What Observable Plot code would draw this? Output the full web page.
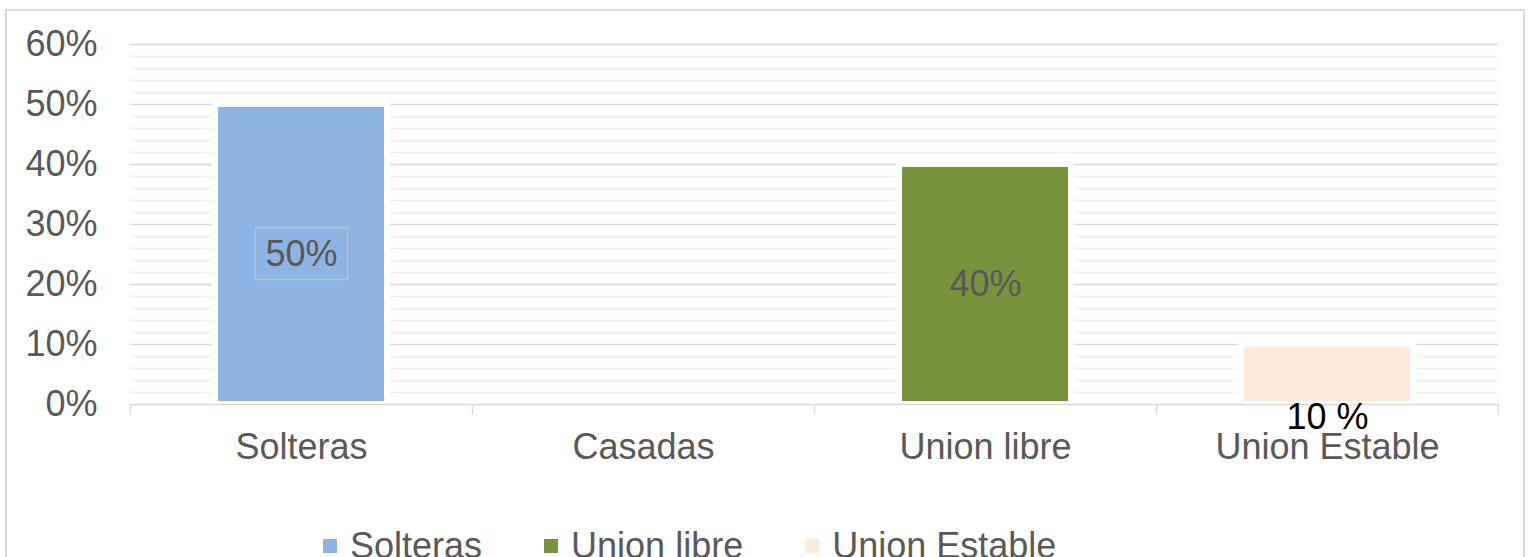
<!DOCTYPE html>
<html>
<head>
<meta charset="utf-8">
<script src="https://cdn.jsdelivr.net/npm/d3@7"></script>
<script src="https://cdn.jsdelivr.net/npm/@observablehq/plot@0.6"></script>
<style>
  html, body { margin: 0; padding: 0; overflow: hidden; background: #fff; }
  #wrap { position: relative; width: 1530px; height: 557px; overflow: hidden; font-family: "Liberation Sans", Arial, sans-serif; }
  #frame { position: absolute; left: 5px; top: 9px; width: 1520px; height: 620px; border: 2px solid #d9d9d9; box-sizing: border-box; }
  #chart { position: absolute; left: 0; top: 0; }
  #legend { position: absolute; top: 528px; left: 323px; display: flex; align-items: center; gap: 62px; font-size: 36px; line-height: 36px; color: #595959; white-space: nowrap; }
  #legend .item { display: flex; align-items: center; gap: 13px; }
  #legend .sw { width: 14px; height: 14px; display: inline-block; }
</style>
</head>
<body>
<div id="wrap">
  <div id="frame"></div>
  <div id="chart"></div>
  <div id="legend"></div>
</div>
<script>
// ---- data ----
const categories = ["Solteras", "Casadas", "Union libre", "Union Estable"];
const values = [0.50, null, 0.40, 0.10];
const labels = ["50%", null, "40%", "10 %"];
const colors = ["#8eb4e3", "#c0504d", "#77933c", "#fdeada"];
const yTicks = [0, 0.1, 0.2, 0.3, 0.4, 0.5, 0.6];
const minorTicks = [0.02, 0.04, 0.06, 0.08, 0.12, 0.14, 0.16, 0.18, 0.22, 0.24, 0.26, 0.28,
                    0.32, 0.34, 0.36, 0.38, 0.42, 0.44, 0.46, 0.48, 0.52, 0.54, 0.56, 0.58];
const boundaries = [0, 1, 2, 3, 4];

const table = categories.map((c, i) => ({i, category: c, value: values[i], label: labels[i], color: colors[i]}));
const bars = table.filter(d => d.value != null);
const insideLabels = table.filter(d => d.label != null && d.i !== 3);
const belowLabels = table.filter(d => d.label != null && d.i === 3);
const boxedLabel = "50%";

const font = "'Liberation Sans', Arial, sans-serif";

const chart = Plot.plot({
  width: 1530,
  height: 480,
  marginLeft: 130,
  marginRight: 32,
  marginTop: 44,
  marginBottom: 76,
  style: {fontFamily: font, color: "#595959", background: "transparent", overflow: "visible"},
  x: {domain: [0, 4], axis: null, label: null},
  y: {domain: [0, 0.6], axis: null, label: null},
  color: {type: "identity"},
  marks: [
    Plot.ruleY(minorTicks, {stroke: "#f0f0f0", strokeWidth: 1.3}),
    Plot.ruleY(yTicks.filter(t => t > 0), {stroke: "#d9d9d9", strokeWidth: 1.3}),
    Plot.rectY(bars, {x1: "i", x2: d => d.i + 1, y: "value", fill: "color", stroke: "white", strokeWidth: 6, insetLeft: 85, insetRight: 85}),
    Plot.ruleY([0], {stroke: "#d9d9d9", strokeWidth: 1.5}),
    Plot.axisX({ticks: boundaries, tickSize: 10, tickFormat: () => "", label: null, stroke: "#d9d9d9", strokeWidth: 1.5}),
    Plot.axisX({ticks: categories.map((c, i) => i + 0.5), tickSize: 0, tickPadding: 29, label: null,
      tickFormat: v => categories[Math.floor(v)], fontSize: 36, fill: "#595959"}),
    Plot.axisY({ticks: yTicks, tickSize: 0, tickPadding: 33, label: null, tickFormat: d3.format(".0%"), fontSize: 36, fill: "#595959"}),
    Plot.text(insideLabels, {x: d => d.i + 0.5, y: d => d.value / 2, text: "label", fontSize: 36, fill: "#595959"}),
    Plot.text(belowLabels, {x: d => d.i + 0.5, y: 0, text: "label", fontSize: 36, fill: "#000000", lineAnchor: "bottom", dy: 24})
  ]
});
document.getElementById("chart").appendChild(chart);

// box around the boxed data label
d3.select(chart).selectAll('g[aria-label="text"] text').each(function() {
  if (this.textContent === boxedLabel) {
    const b = this.getBBox();
    const cy = b.y + b.height / 2;
    const g = this.parentNode;
    const r = document.createElementNS("http://www.w3.org/2000/svg", "rect");
    r.setAttribute("x", b.x - 10);
    r.setAttribute("y", cy - 26);
    r.setAttribute("width", b.width + 20);
    r.setAttribute("height", 52);
    r.setAttribute("fill", "none");
    r.setAttribute("stroke", "#bfbfbf");
    r.setAttribute("stroke-width", 1.5);
    const t = this.getAttribute("transform");
    if (t) r.setAttribute("transform", t);
    g.insertBefore(r, this);
  }
});

// legend
const legend = d3.select("#legend");
bars.forEach(d => {
  const item = legend.append("div").attr("class", "item");
  item.append("span").attr("class", "sw").style("background", d.color);
  item.append("span").text(d.category);
});
</script>
</body>
</html>
